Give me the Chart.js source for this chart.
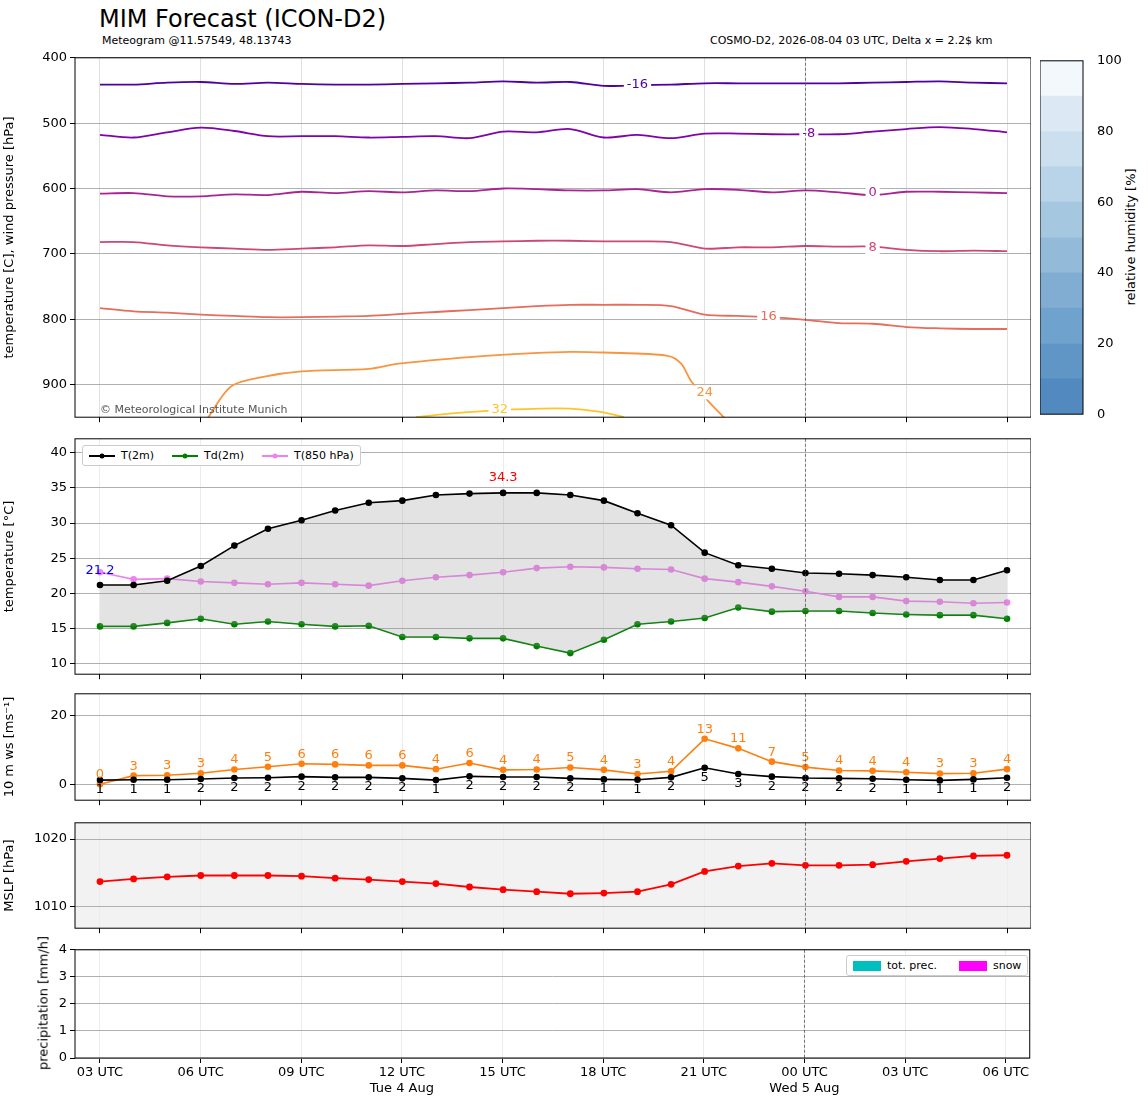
<!DOCTYPE html>
<html>
<head>
<meta charset="utf-8">
<script src="https://cdn.jsdelivr.net/npm/chart.js@4"></script>
<style>
  body { margin: 0; background: #fff; font-family: "DejaVu Sans", sans-serif; }
  #wrap { position: relative; width: 1148px; height: 1105px; }
  canvas { position: absolute; }
  .txt { position: absolute; white-space: nowrap; color: #000; }
  .legend { position: absolute; background: #fff; border: 1px solid #ccc; border-radius: 3px;
            font-size: 11px; display: flex; gap: 18px; padding: 3px 6px; align-items: center; }
  .legend span.item { display: flex; align-items: center; gap: 6px; }
</style>
</head>
<body>
<div id="wrap">
  <div class="txt" style="left:99px;top:5px;font-size:24px;">MIM Forecast (ICON-D2)</div>
  <div class="txt" style="left:102px;top:34px;font-size:11px;">Meteogram @11.57549, 48.13743</div>
  <div class="txt" style="left:710px;top:34px;font-size:11px;">COSMO-D2, 2026-08-04 03 UTC, Delta x = 2.2$ km</div>
  <div class="txt" style="left:100px;top:403px;font-size:11px;color:#555;z-index:2;">© Meteorological Institute Munich</div>
  <div class="txt" style="left:1130px;top:237px;font-size:13px;transform:translate(-50%,-50%) rotate(-90deg);">relative humidity [%]</div>
  <div class="txt" style="left:43px;top:1003px;font-size:13px;transform:translate(-50%,-50%) rotate(-90deg);z-index:2;">precipitation [mm/h]</div>

  <canvas id="c1" style="left:0;top:47px;" width="1031" height="381"></canvas>
  <canvas id="cb" style="left:1040px;top:47px;" width="108" height="381"></canvas>
  <canvas id="c2" style="left:0;top:428px;" width="1031" height="257"></canvas>
  <canvas id="c3" style="left:0;top:683px;" width="1031" height="128"></canvas>
  <canvas id="c4" style="left:0;top:812px;" width="1031" height="127"></canvas>
  <canvas id="c5" style="left:0;top:939px;" width="1031" height="165"></canvas>

  <div class="legend" style="left:82px;top:445px;">
    <span class="item"><svg width="26" height="8"><line x1="0" y1="4" x2="26" y2="4" stroke="#000" stroke-width="2"/><circle cx="13" cy="4" r="2.5" fill="#000"/></svg>T(2m)</span>
    <span class="item"><svg width="26" height="8"><line x1="0" y1="4" x2="26" y2="4" stroke="#008000" stroke-width="2"/><circle cx="13" cy="4" r="2.5" fill="#008000"/></svg>Td(2m)</span>
    <span class="item"><svg width="26" height="8"><line x1="0" y1="4" x2="26" y2="4" stroke="#ee82ee" stroke-width="2"/><circle cx="13" cy="4" r="2.5" fill="#ee82ee"/></svg>T(850 hPa)</span>
  </div>
  <div class="legend" style="left:846px;top:955px;gap:22px;">
    <span class="item"><svg width="28" height="10"><rect width="28" height="10" fill="#00bfbf"/></svg>tot. prec.</span>
    <span class="item"><svg width="28" height="10"><rect width="28" height="10" fill="#ff00ff"/></svg>snow</span>
  </div>
</div>

<script>
// hours since 2026-08-04 03 UTC
const hours = Array.from({length: 28}, (_, i) => i);
const tickHours = [0, 3, 6, 9, 12, 15, 18, 21, 24, 27];
const midnightHour = 21;

// 2 m temperature, dew point, 850 hPa temperature [C]
const t2m = [21.2,21.2,21.8,23.9,26.8,29.2,30.4,31.8,32.9,33.2,34.0,34.2,34.3,34.3,34.0,33.2,31.4,29.7,25.8,24.0,23.5,22.9,22.8,22.6,22.3,21.9,21.9,23.3];
const td2m = [15.3,15.3,15.8,16.4,15.6,16.0,15.6,15.3,15.4,13.8,13.8,13.6,13.6,12.5,11.5,13.4,15.6,16.0,16.5,18.0,17.4,17.5,17.5,17.2,17.0,16.9,16.9,16.4];
const t850 = [23.0,22.0,22.1,21.7,21.5,21.3,21.5,21.3,21.1,21.8,22.3,22.6,23.0,23.6,23.8,23.7,23.5,23.4,22.1,21.6,21.0,20.3,19.5,19.5,18.9,18.8,18.6,18.7];

// 10 m wind speed and gusts [m/s]
const ws10 = [1.2,1.3,1.3,1.5,1.8,1.9,2.2,2.0,2.0,1.7,1.2,2.3,2.1,2.1,1.7,1.4,1.3,2.0,4.8,3.0,2.2,1.8,1.7,1.6,1.3,1.1,1.4,1.9];
const gust10 = [0.0,2.5,2.6,3.2,4.3,5.1,6.0,5.8,5.5,5.5,4.4,6.2,4.2,4.3,4.9,4.2,3.0,3.8,13.3,10.5,6.6,5.0,4.0,3.9,3.5,3.1,3.2,4.4];

// mean sea level pressure [hPa]
const mslp = [1013.7,1014.1,1014.4,1014.6,1014.6,1014.6,1014.5,1014.2,1014.0,1013.7,1013.4,1012.9,1012.5,1012.2,1011.9,1012.0,1012.2,1013.3,1015.2,1016.0,1016.4,1016.1,1016.1,1016.2,1016.7,1017.1,1017.5,1017.6];

// precipitation [mm/h]
const precip = new Array(28).fill(0);

// isotherm pressure levels [hPa]
const iso_m16 = [441,441,438,437,440,438,440,441,441,440,439,438,436,438,437,443,442,441,439,439,439,439,439,438,437,436,438,439];
const iso_m8 = [518,522,514,507,512,520,520,520,522,521,520,523,513,514,509,522,518,523,516,516,517,517,517,513,509,506,509,514];
const iso_0 = [608,607,612,612,609,610,605,607,604,606,603,604,600,601,603,603,601,606,601,602,606,603,606,610,605,605,606,607];
const iso_8 = [682,682,687,690,692,694,692,690,687,688,685,682,681,680,680,681,681,682,692,690,690,688,689,689,694,696,695,696];
const iso_16 = [783,788,790,793,795,797,797,796,795,792,789,786,783,780,778,778,778,780,793,795,797,801,806,807,812,814,815,815];
const iso_24_h = [3.2,3.9,4.9,6.0,8.0,8.9,11.0,12.9,14.0,15.0,16.9,17.3,17.6,18.1,18.6];
const iso_24_p = [952,903,888,880,876,868,858,852,850,851,856,868,895,925,952];
const iso_32_h = [9.4,10.1,11.6,13.1,14.0,14.9,15.6];
const iso_32_p = [950,946,940,937,937,942,950];
const isoLabels = [
  {h: 16.0, p: 441, text: '-16', color: '#4c02a1'},
  {h: 21.1, p: 516, text: '-8', color: '#7e03a8'},
  {h: 23.0, p: 606, text: '0', color: '#a92395'},
  {h: 23.0, p: 690, text: '8', color: '#cc4778'},
  {h: 19.9, p: 796, text: '16', color: '#e66c5c'},
  {h: 18.0, p: 912, text: '24', color: '#f89540'},
  {h: 11.9, p: 939, text: '32', color: '#fdc527'}
];

// relative humidity colour bar
const rhLevels = [0,10,20,30,40,50,60,70,80,90];
const rhColors = ['#5289bf','#6096c5','#6fa2cc','#81add3','#93bad9','#a6c7e0','#b9d3e8','#cbdfef','#dce9f5','#f3f8fd'];

const FONT = {family: 'DejaVu Sans', size: 13};
Chart.defaults.font.family = 'DejaVu Sans';
Chart.defaults.color = '#000';
Chart.defaults.animation = false;
Chart.defaults.events = [];

function hourLabel(v) {
  const hh = String((3 + v) % 24).padStart(2, '0') + ' UTC';
  if (v === 9) return [hh, 'Tue 4 Aug'];
  if (v === 21) return [hh, 'Wed 5 Aug'];
  return hh;
}

function xAxis(showLabels) {
  return {
    type: 'linear', min: -0.744, max: 27.714, offset: false,
    afterBuildTicks: s => { s.ticks = tickHours.map(v => ({value: v})); },
    afterFit: s => { s.height = showLabels ? 46 : 10; },
    grid: {color: '#ececec', tickColor: '#000', tickLength: 5, offset: false},
    border: {display: false},
    ticks: {display: showLabels, font: FONT, maxRotation: 0, padding: 2,
            callback: v => hourLabel(v)}
  };
}

function yAxis(title, min, max, ticks, extra) {
  return Object.assign({
    min: min, max: max,
    afterBuildTicks: s => { s.ticks = ticks.map(v => ({value: v})); },
    afterFit: s => { s.width = 75; },
    grid: {color: '#b0b0b0', tickColor: '#000', tickLength: 5},
    border: {display: false},
    ticks: {font: FONT, padding: 3, callback: v => String(v)},
    title: {display: title !== '', text: title, font: FONT, padding: 2}
  }, extra || {});
}

const framePlugin = {
  id: 'frame',
  afterDraw(chart) {
    const {ctx, chartArea: a, scales} = chart;
    if (scales.x && chart.canvas.id !== 'cb') {
      const px = scales.x.getPixelForValue(midnightHour);
      ctx.save();
      ctx.strokeStyle = '#555';
      ctx.lineWidth = 0.8;
      ctx.setLineDash([3, 2]);
      ctx.beginPath(); ctx.moveTo(px, a.top); ctx.lineTo(px, a.bottom); ctx.stroke();
      ctx.restore();
    }
    ctx.save();
    ctx.strokeStyle = '#000';
    ctx.lineWidth = 1;
    ctx.strokeRect(a.left, a.top, a.right - a.left, a.bottom - a.top);
    ctx.restore();
  }
};
Chart.register(framePlugin);

const pad = {top: 1, left: 0, right: 0, bottom: 0};
const layout = {padding: pad, autoPadding: false};
const noLegend = {legend: {display: false}, tooltip: {enabled: false}};

// Panel 1: isotherms on pressure levels
function isoSet(levels, color) {
  return {data: hours.map((h, i) => ({x: h, y: levels[i]})), borderColor: color,
          borderWidth: 1.8, pointRadius: 0, tension: 0.3};
}
function isoSetXY(hs, ps, color) {
  return {data: hs.map((h, i) => ({x: h, y: ps[i]})), borderColor: color,
          borderWidth: 1.8, pointRadius: 0, tension: 0.3};
}
new Chart(document.getElementById('c1'), {
  type: 'line',
  data: {datasets: [
    isoSet(iso_m16, '#4c02a1'), isoSet(iso_m8, '#7e03a8'), isoSet(iso_0, '#a92395'),
    isoSet(iso_8, '#cc4778'), isoSet(iso_16, '#e66c5c'),
    isoSetXY(iso_24_h, iso_24_p, '#f89540'), isoSetXY(iso_32_h, iso_32_p, '#fdc527')
  ]},
  options: {
    responsive: false, layout: layout, plugins: noLegend,
    scales: {
      x: Object.assign(xAxis(false), {grid: {color: '#e0e0e0', tickColor: '#000', tickLength: 5}}),
      y: yAxis('temperature [C], wind pressure [hPa]', 400, 950, [400,500,600,700,800,900], {reverse: true})
    }
  },
  plugins: [{
    id: 'isoLabels',
    afterDatasetsDraw(chart) {
      const {ctx, scales: {x, y}} = chart;
      ctx.save();
      ctx.font = '13px DejaVu Sans';
      ctx.textAlign = 'center'; ctx.textBaseline = 'middle';
      isoLabels.forEach(l => {
        const px = x.getPixelForValue(l.h), py = y.getPixelForValue(l.p);
        const w = ctx.measureText(l.text).width + 6;
        ctx.fillStyle = '#fff';
        ctx.fillRect(px - w / 2, py - 7, w, 14);
        ctx.fillStyle = l.color;
        ctx.fillText(l.text, px, py);
      });
      ctx.restore();
    }
  }]
});

// Colour bar for relative humidity
new Chart(document.getElementById('cb'), {
  type: 'bar',
  data: {labels: [''], datasets: rhLevels.map((v, i) => ({data: [10], backgroundColor: rhColors[i],
          barPercentage: 1, categoryPercentage: 1}))},
  options: {
    responsive: false, layout: {padding: {top: 1, bottom: 10, left: 0, right: 0}, autoPadding: false}, plugins: noLegend,
    scales: {
      x: {stacked: true, display: false},
      y: {stacked: true, position: 'right', min: 0, max: 100,
          afterBuildTicks: s => { s.ticks = [0,20,40,60,80,100].map(v => ({value: v})); },
          afterFit: s => { s.width = 65; },
          grid: {display: false, drawTicks: true}, border: {display: false},
          ticks: {font: FONT, padding: 6}}
    }
  }
});

// Panel 2: temperatures
new Chart(document.getElementById('c2'), {
  type: 'line',
  data: {datasets: [
    {data: hours.map((h, i) => ({x: h, y: t2m[i]})), borderColor: '#000', backgroundColor: 'rgba(150,150,150,0.27)',
     pointBackgroundColor: '#000', pointBorderColor: '#000',
     borderWidth: 1.6, pointRadius: 2.5, fill: {target: 1}, tension: 0},
    {data: hours.map((h, i) => ({x: h, y: td2m[i]})), borderColor: '#008000', backgroundColor: '#008000',
     borderWidth: 1.6, pointRadius: 2.5, tension: 0, fill: false},
    {data: hours.map((h, i) => ({x: h, y: t850[i]})), borderColor: '#ee82ee', backgroundColor: '#ee82ee',
     borderWidth: 1.6, pointRadius: 2.5, tension: 0, fill: false}
  ]},
  options: {
    responsive: false, layout: layout,
    plugins: Object.assign({filler: {propagate: false}}, noLegend),
    scales: {x: xAxis(false), y: yAxis('temperature [°C]', 8.5, 42, [10,15,20,25,30,35,40])}
  },
  plugins: [{
    id: 'tLabels',
    afterDatasetsDraw(chart) {
      const {ctx, scales: {x, y}} = chart;
      const iMax = t2m.indexOf(Math.max(...t2m));
      ctx.save();
      ctx.font = '13px DejaVu Sans'; ctx.textAlign = 'center';
      ctx.fillStyle = '#ff0000';
      ctx.fillText(t2m[iMax].toFixed(1), x.getPixelForValue(hours[iMax]), y.getPixelForValue(t2m[iMax]) - 12);
      ctx.fillStyle = '#0000ff';
      ctx.fillText(t2m[0].toFixed(1), x.getPixelForValue(hours[0]), y.getPixelForValue(t850[0]) + 2);
      ctx.restore();
    }
  }]
});

// Panel 3: 10 m wind speed
new Chart(document.getElementById('c3'), {
  type: 'line',
  data: {datasets: [
    {data: hours.map((h, i) => ({x: h, y: ws10[i]})), borderColor: '#000', backgroundColor: '#000',
     borderWidth: 1.6, pointRadius: 2.5},
    {data: hours.map((h, i) => ({x: h, y: gust10[i]})), borderColor: '#ff7f0e', backgroundColor: '#ff7f0e',
     borderWidth: 1.6, pointRadius: 2.5}
  ]},
  options: {
    responsive: false, layout: layout, plugins: noLegend,
    scales: {x: xAxis(false), y: yAxis('10 m ws [ms⁻¹]', -4.7, 26.5, [0, 20])}
  },
  plugins: [{
    id: 'wsLabels',
    afterDatasetsDraw(chart) {
      const {ctx, scales: {x, y}} = chart;
      ctx.save();
      ctx.font = '13px DejaVu Sans'; ctx.textAlign = 'center';
      hours.forEach((h, i) => {
        const px = x.getPixelForValue(h);
        ctx.fillStyle = '#000'; ctx.textBaseline = 'top';
        ctx.fillText(String(Math.round(ws10[i])), px, y.getPixelForValue(ws10[i]) + 3);
        ctx.fillStyle = '#ff7f0e'; ctx.textBaseline = 'bottom';
        ctx.fillText(String(Math.round(gust10[i])), px, y.getPixelForValue(gust10[i]) - 3);
      });
      ctx.restore();
    }
  }]
});

// Panel 4: MSLP
new Chart(document.getElementById('c4'), {
  type: 'line',
  data: {datasets: [
    {data: hours.map((h, i) => ({x: h, y: mslp[i]})), borderColor: '#ff0000', backgroundColor: '#ff0000',
     borderWidth: 1.8, pointRadius: 2.5}
  ]},
  options: {
    responsive: false, layout: layout, plugins: noLegend,
    scales: {x: xAxis(false), y: yAxis('MSLP [hPa]', 1006.8, 1022.4, [1010, 1020])}
  },
  plugins: [{
    id: 'bg',
    beforeDraw(chart) {
      const {ctx, chartArea: a} = chart;
      ctx.save(); ctx.fillStyle = '#f2f2f2';
      ctx.fillRect(a.left, a.top, a.right - a.left, a.bottom - a.top); ctx.restore();
    }
  }]
});

// Panel 5: precipitation (axis title is drawn as HTML so it can overflow the panel)
new Chart(document.getElementById('c5'), {
  type: 'line',
  data: {datasets: [
    {data: hours.map((h, i) => ({x: h, y: precip[i]})), borderColor: '#00bfbf', borderWidth: 0,
     pointRadius: 0, backgroundColor: '#00bfbf'}
  ]},
  options: {
    responsive: false, layout: layout, plugins: noLegend,
    scales: {x: xAxis(true), y: yAxis('', 0, 4, [0,1,2,3,4])}
  }
});
</script>
</body>
</html>
